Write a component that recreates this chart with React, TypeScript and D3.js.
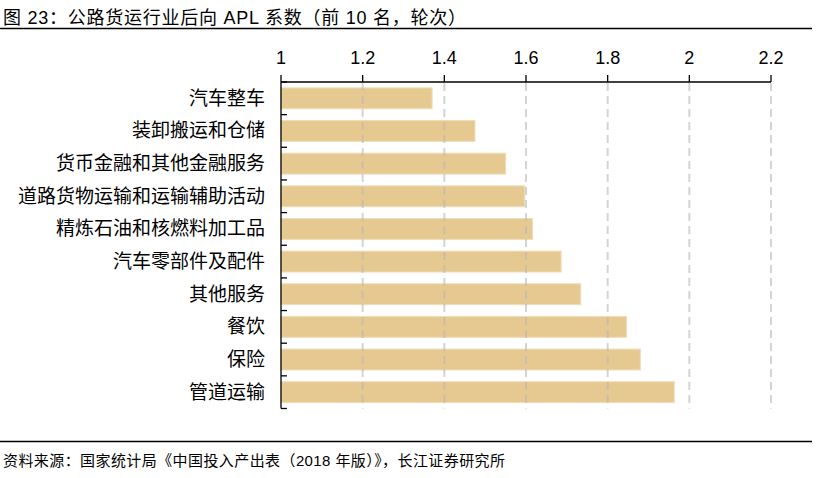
import React from "react";
import * as d3 from "d3";

const categories = [
  "汽车整车",
  "装卸搬运和仓储",
  "货币金融和其他金融服务",
  "道路货物运输和运输辅助活动",
  "精炼石油和核燃料加工品",
  "汽车零部件及配件",
  "其他服务",
  "餐饮",
  "保险",
  "管道运输",
];
const values = [1.37, 1.475, 1.55, 1.597, 1.616, 1.686, 1.734, 1.846, 1.88, 1.963];
const xTicks = [1, 1.2, 1.4, 1.6, 1.8, 2, 2.2];
const title = "图 23：公路货运行业后向 APL 系数（前 10 名，轮次）";
const source = "资料来源：国家统计局《中国投入产出表（2018 年版）》，长江证券研究所";

const W = 826;
const H = 478;
const FONT = '"Liberation Sans", Arial, "Noto Sans CJK SC", sans-serif';

export default function App() {
  const left = 281;
  const right = 771;
  const top = 82;
  const bottom = 408.5;

  const x = d3.scaleLinear().domain([1, 2.2]).range([left, right]);
  const y = d3
    .scaleBand<string>()
    .domain(categories)
    .range([top, bottom])
    .paddingInner(0.36)
    .paddingOuter(0.18);

  const bandStep = (bottom - top) / categories.length;
  const boundaries = d3.range(categories.length + 1).map((i) => top + i * bandStep);

  return (
    <svg
      width={W}
      height={H}
      style={{ position: "absolute", left: 0, top: 0, background: "#fff" }}
      fontFamily={FONT}
    >
      <text x={3} y={24} fontSize={18} fill="#000" textLength={463} lengthAdjust="spacing">
        {title}
      </text>
      <line x1={0} x2={812} y1={28.5} y2={28.5} stroke="#000" strokeWidth={1.3} />

      {/* bars */}
      {categories.map((c, i) => (
        <rect
          key={c}
          x={x(1)}
          y={y(c)!}
          width={x(values[i]) - x(1)}
          height={y.bandwidth()}
          fill="#E6C990"
          stroke="#EFDDB8"
          strokeWidth={1}
        />
      ))}

      {/* gridlines */}
      {xTicks.slice(1).map((t) => (
        <line
          key={"g" + t}
          x1={x(t)}
          x2={x(t)}
          y1={top + 1}
          y2={bottom}
          stroke="#b8b8b8"
          strokeOpacity={0.6}
          strokeWidth={2}
          strokeDasharray="8,5"
        />
      ))}

      {/* top axis */}
      <line x1={left} x2={right} y1={top} y2={top} stroke="#000" strokeWidth={1.3} />
      {xTicks.map((t) => (
        <g key={"t" + t}>
          <line x1={x(t)} x2={x(t)} y1={top} y2={top - 7} stroke="#000" strokeWidth={1.3} />
          <text x={x(t)} y={64} fontSize={18} textAnchor="middle" fill="#000">
            {d3.format("")(t)}
          </text>
        </g>
      ))}

      {/* left axis */}
      <line x1={left} x2={left} y1={top} y2={bottom} stroke="#000" strokeWidth={1.3} />
      {boundaries.map((b, i) => (
        <line key={"b" + i} x1={left} x2={left + 6} y1={b} y2={b} stroke="#000" strokeWidth={1.3} />
      ))}
      {categories.map((c) => (
        <text
          key={"l" + c}
          x={265}
          y={y(c)! + y.bandwidth() / 2}
          fontSize={19}
          textAnchor="end"
          dominantBaseline="central"
          fill="#000"
        >
          {c}
        </text>
      ))}

      <line x1={0} x2={812} y1={441.5} y2={441.5} stroke="#000" strokeWidth={1.3} />
      <text x={3} y={466} fontSize={15} fill="#000" textLength={502} lengthAdjust="spacing">
        {source}
      </text>
    </svg>
  );
}
